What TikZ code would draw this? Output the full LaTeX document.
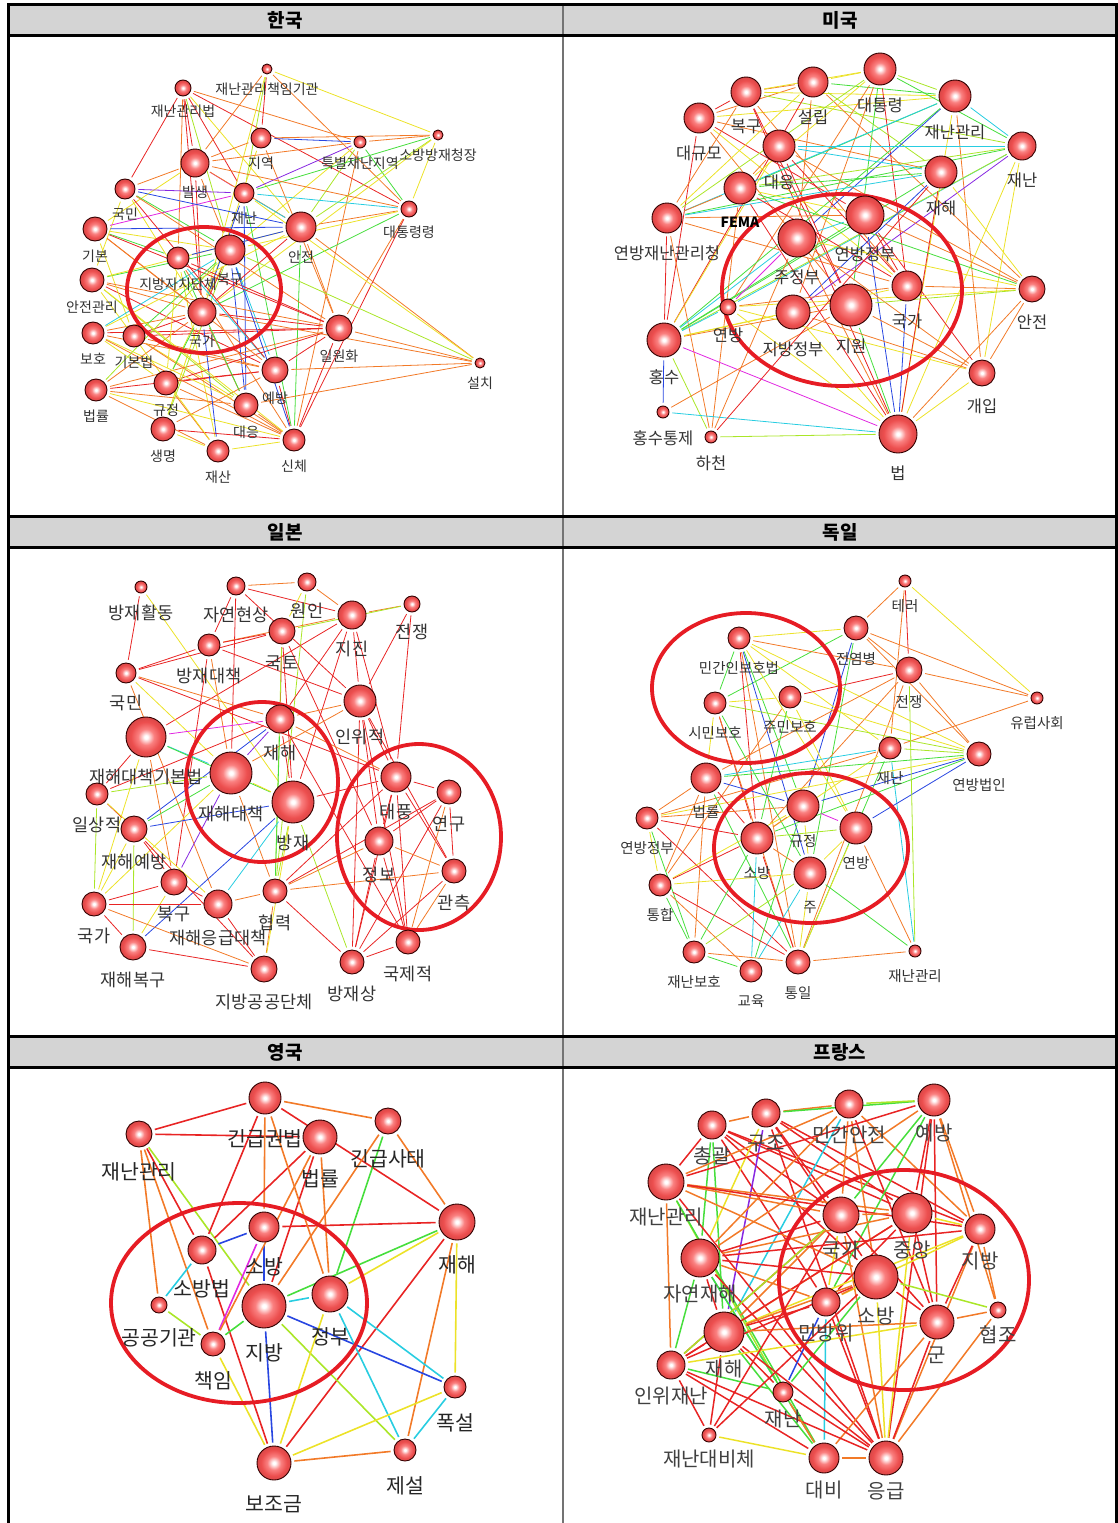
\documentclass[tikz,border=0pt]{standalone}
\usepackage{fontspec}
\setmainfont{Noto Sans CJK KR}
\usetikzlibrary{shapes.geometric}
\definecolor{cR}{RGB}{232,36,36}
\definecolor{cO}{RGB}{242,122,40}
\definecolor{cY}{RGB}{236,226,40}
\definecolor{cL}{RGB}{170,230,40}
\definecolor{cG}{RGB}{70,222,60}
\definecolor{cC}{RGB}{40,205,225}
\definecolor{cB}{RGB}{40,70,225}
\definecolor{cV}{RGB}{135,40,225}
\definecolor{cM}{RGB}{225,40,225}
\definecolor{ringred}{RGB}{230,28,36}
\definecolor{headgray}{RGB}{212,212,212}
\definecolor{ballmid}{RGB}{250,128,128}
\definecolor{balledge}{RGB}{236,78,78}
\pgfdeclareradialshading{sphere}{\pgfpoint{0bp}{0bp}}{color(0bp)=(white); color(2bp)=(white); color(10bp)=(ballmid); color(19bp)=(balledge); color(25bp)=(balledge!92!black); color(50bp)=(balledge!92!black)}
\pgfdeclarelayer{edges}
\pgfdeclarelayer{rings}
\pgfsetlayers{edges,rings,main}

\begin{document}
\begin{tikzpicture}[x=1pt,y=-1pt,
    term/.style={circle,draw=black!80!red,line width=0.9pt,shading=sphere,minimum size=#1,inner sep=0pt},
    wire/.style={draw=#1,line width=0.8pt,shorten <=3pt,shorten >=3pt},
    ring/.style={ellipse,draw=ringred,line width=3.8pt,inner sep=0pt,fill=none},
    frame/.style={draw=black,line width=3pt},
    divider/.style={draw=black!55,line width=1.2pt},
    header/.style={font=\bfseries\fontsize{19}{20}\selectfont}]
  \useasboundingbox (0,0) rectangle (1118,1523);

  \begin{pgfonlayer}{edges}
    \fill[headgray] (8,4) rectangle (1116,35);
    \fill[headgray] (8,516) rectangle (1116,547);
    \fill[headgray] (8,1036) rectangle (1116,1067);
  \end{pgfonlayer}

  \node[header] (hKorea) at (285,20) {한국};
  \node[header] (hUsa) at (840,20) {미국};
  \node[header] (hJapan) at (285,532) {일본};
  \node[header] (hGermany) at (840,532) {독일};
  \node[header] (hUk) at (285,1052) {영국};
  \node[header] (hFrance) at (840,1052) {프랑스};

  % Korea
  \begin{scope}[every label/.style={font=\fontsize{14}{15}\selectfont,text=black!80,inner sep=0pt},label distance=8pt]
    \node[term=10,label=below:재난관리책임기관] (kChaegim) at (267,69) {};
    \node[term=16,label=below:재난관리법] (kGwanbeop) at (183,88) {};
    \node[term=20,label=below:지역] (kJiyeok) at (261,138) {};
    \node[term=12,label=below:특별재난지역] (kTeukbyeol) at (360,142) {};
    \node[term=10,label=below:소방방재청장] (kSobang) at (438,135) {};
    \node[term=28,label=below:발생] (kBalsaeng) at (195,163) {};
    \node[term=20,label=below:국민] (kGukmin) at (125,189) {};
    \node[term=20,label=below:재난] (kJaenan) at (244,193) {};
    \node[term=16,label=below:대통령령] (kDaetong) at (409,209) {};
    \node[term=30,label=below:안전] (kAnjeon) at (301,227) {};
    \node[term=24,label=below:기본] (kGibon) at (95,229) {};
    \node[term=22,label=below:지방자치단체] (kJibang) at (178,258) {};
    \node[term=30,label=below:복구] (kBokgu) at (230,250) {};
    \node[term=24,label=below:안전관리] (kAngwan) at (92,280) {};
    \node[term=28,label=below:국가] (kGukga) at (202,312) {};
    \node[term=22,label=below:보호] (kBoho) at (93,333) {};
    \node[term=22,label=below:기본법] (kGibonbeop) at (134,336) {};
    \node[term=26,label=below:일원화] (kIrwon) at (339,328) {};
    \node[term=10,label=below:설치] (kSeolchi) at (480,363) {};
    \node[term=24,label=below:규정] (kGyujeong) at (166,383) {};
    \node[term=26,label=below:예방] (kYebang) at (275,370) {};
    \node[term=22,label=below:법률] (kBeopryul) at (96,390) {};
    \node[term=24,label=below:대응] (kDaeeung) at (246,405) {};
    \node[term=24,label=below:생명] (kSaeng) at (163,429) {};
    \node[term=22,label=below:재산] (kJaesan) at (218,451) {};
    \node[term=22,label=below:신체] (kSinche) at (294,440) {};
    \begin{pgfonlayer}{edges}
      \foreach \a/\b/\c in {Gwanbeop/Gukmin/R,Gwanbeop/Balsaeng/R,Gwanbeop/Gukga/R,Gwanbeop/Jaenan/R,Gwanbeop/Teukbyeol/O,
          Gwanbeop/Daetong/R,Gwanbeop/Bokgu/L,Gwanbeop/Anjeon/Y,Gwanbeop/Jibang/O,Chaegim/Sobang/Y,Chaegim/Jiyeok/R,
          Chaegim/Balsaeng/O,Chaegim/Jaenan/L,Chaegim/Daetong/O,Chaegim/Gukga/Y,Jiyeok/Teukbyeol/B,Jiyeok/Balsaeng/O,
          Jiyeok/Sobang/O,Jiyeok/Gukga/Y,Jiyeok/Irwon/O,Teukbyeol/Balsaeng/O,Teukbyeol/Jaenan/V,Teukbyeol/Anjeon/L,
          Teukbyeol/Daetong/G,Teukbyeol/Sobang/O,Teukbyeol/Bokgu/Y,Teukbyeol/Sinche/O,Sobang/Daetong/Y,Sobang/Jaenan/G,
          Sobang/Anjeon/L,Sobang/Gukga/Y,Daetong/Anjeon/O,Daetong/Jaenan/C,Daetong/Balsaeng/O,Daetong/Gukga/G,
          Daetong/Bokgu/Y,Daetong/Sinche/R,Daetong/Irwon/O,Balsaeng/Gukmin/O,Balsaeng/Jaenan/M,Balsaeng/Gukga/R,
          Balsaeng/Bokgu/O,Balsaeng/Gibon/Y,Balsaeng/Anjeon/O,Gukmin/Jaenan/V,Gukmin/Gukga/Y,Gukmin/Bokgu/G,
          Gukmin/Angwan/Y,Jaenan/Gibon/M,Jaenan/Gukga/B,Jaenan/Anjeon/C,Jaenan/Daeeung/B,Jaenan/Sinche/G,
          Gibon/Anjeon/B,Gibon/Gukga/O,Gibon/Bokgu/Y,Angwan/Gukga/O,Angwan/Bokgu/G,Angwan/Anjeon/Y,Angwan/Yebang/R,
          Bokgu/Gukga/R,Bokgu/Daeeung/B,Bokgu/Yebang/C,Bokgu/Gyujeong/Y,Anjeon/Gukga/R,Anjeon/Irwon/O,Anjeon/Sinche/G,
          Anjeon/Boho/Y,Jibang/Anjeon/B,Jibang/Irwon/R,Jibang/Jaesan/Y,Gukga/Irwon/R,Gukga/Boho/O,Gukga/Gibonbeop/R,
          Gukga/Saeng/Y,Gukga/Daeeung/O,Boho/Irwon/R,Boho/Gyujeong/Y,Boho/Yebang/O,Gibonbeop/Irwon/R,Gibonbeop/Yebang/O,
          Gibonbeop/Daeeung/Y,Gibonbeop/Sinche/O,Irwon/Seolchi/O,Irwon/Yebang/R,Irwon/Gyujeong/R,Irwon/Beopryul/O,
          Irwon/Sinche/R,Seolchi/Anjeon/O,Seolchi/Gukga/O,Seolchi/Yebang/O,Seolchi/Bokgu/L,Seolchi/Jaenan/Y,
          Seolchi/Daeeung/O,Gyujeong/Yebang/R,Gyujeong/Jaesan/O,Gyujeong/Sinche/O,Beopryul/Yebang/R,Beopryul/Daeeung/O,
          Beopryul/Jaesan/O,Beopryul/Sinche/Y,Saeng/Jaesan/Y,Saeng/Yebang/O,Saeng/Sinche/R,Jaesan/Sinche/Y,
          Daeeung/Sinche/O,Yebang/Sinche/R,Gyujeong/Gukga/G,Beopryul/Gukga/O,Saeng/Bokgu/L,Jaesan/Gukga/B,Sinche/Bokgu/B,
          Gibon/Gibonbeop/Y,Angwan/Irwon/O,Boho/Daeeung/Y,Gukmin/Anjeon/B,Gibon/Jibang/G,Angwan/Jaesan/Y,Boho/Sinche/O,
          Gibon/Irwon/R,Gukmin/Irwon/O,Angwan/Daeeung/L,Gibonbeop/Bokgu/G,Boho/Bokgu/C,Jibang/Yebang/C,Jibang/Daeeung/G,
          Jibang/Gyujeong/Y,Jibang/Sinche/O,Gukmin/Yebang/R,Gibon/Yebang/O,Angwan/Sinche/Y,Beopryul/Bokgu/L}
        \draw[wire=c\c] (k\a) -- (k\b);
    \end{pgfonlayer}
    \begin{pgfonlayer}{rings}
      \node[ring,minimum width=154,minimum height=126] (kCore) at (204,290) {};
    \end{pgfonlayer}
  \end{scope}

  % USA
  \begin{scope}[every label/.style={font=\fontsize{16.5}{17}\selectfont,text=black!80,inner sep=0pt},label distance=12pt]
    \node[term=30,label=below:대규모] (uDaegyumo) at (699,118) {};
    \node[term=30,label=below:복구] (uBokgu) at (746,92) {};
    \node[term=30,label=below:설립] (uSeolrip) at (813,82) {};
    \node[term=32,label=below:대통령] (uDaetong) at (880,69) {};
    \node[term=32,label=below:재난관리] (uJaegwan) at (955,96) {};
    \node[term=28,label=below:재난] (uJaenan) at (1022,146) {};
    \node[term=32,label=below:대응] (uDaeeung) at (779,146) {};
    \node[term=32,label=below:재해] (uJaehae) at (941,172) {};
    \node[term=32,label={[font=\bfseries\fontsize{14}{15}\selectfont,text=black]below:FEMA}] (uFema) at (740,188) {};
    \node[term=30,label=below:연방재난관리청] (uYeonjaegwan) at (667,218) {};
    \node[term=38,label=below:연방정부] (uYeonjeong) at (865,215) {};
    \node[term=38,label=below:주정부] (uJujeong) at (797,238) {};
    \node[term=30,label=below:국가] (uGukga) at (907,286) {};
    \node[term=16,label=below:연방] (uYeonbang) at (728,307) {};
    \node[term=42,label=below:지원] (uJiwon) at (851,305) {};
    \node[term=34,label=below:지방정부] (uJibang) at (793,312) {};
    \node[term=26,label=below:안전] (uAnjeon) at (1032,289) {};
    \node[term=34,label=below:홍수] (uHongsu) at (664,340) {};
    \node[term=26,label=below:개입] (uGaeip) at (982,373) {};
    \node[term=12,label=below:홍수통제] (uHongtong) at (663,412) {};
    \node[term=12,label=below:하천] (uHacheon) at (711,437) {};
    \node[term=38,label=below:법] (uBeop) at (898,434) {};
    \begin{pgfonlayer}{edges}
      \foreach \a/\b/\c in {Daegyumo/Bokgu/R,Daegyumo/Seolrip/O,Daegyumo/Jaegwan/Y,Daegyumo/Jaehae/O,Daegyumo/Yeonjeong/R,
          Daegyumo/Jiwon/O,Daegyumo/Hongsu/R,Daegyumo/Gukga/Y,Bokgu/Seolrip/O,Bokgu/Daetong/Y,Bokgu/Jaegwan/Y,
          Bokgu/Jaenan/L,Bokgu/Jiwon/R,Bokgu/Gukga/O,Bokgu/Yeonjaegwan/O,Bokgu/Beop/R,Seolrip/Daetong/Y,
          Seolrip/Jaegwan/G,Seolrip/Jaehae/L,Seolrip/Yeonjaegwan/Y,Seolrip/Jujeong/O,Seolrip/Anjeon/O,Seolrip/Hongsu/R,
          Daetong/Jaegwan/L,Daetong/Jaenan/G,Daetong/Fema/Y,Daetong/Yeonjaegwan/L,Daetong/Jiwon/G,Daetong/Jibang/O,
          Daetong/Gukga/R,Daetong/Yeonbang/O,Jaegwan/Jaenan/C,Jaegwan/Fema/G,Jaegwan/Yeonjaegwan/C,Jaegwan/Jujeong/B,
          Jaegwan/Gaeip/O,Jaegwan/Hongsu/G,Jaegwan/Beop/Y,Jaenan/Daeeung/C,Jaenan/Fema/L,Jaenan/Yeonjaegwan/G,
          Jaenan/Yeonbang/C,Jaenan/Jibang/V,Jaenan/Hongsu/L,Jaenan/Beop/Y,Jaenan/Gaeip/Y,Daeeung/Jaehae/C,Daeeung/Fema/O,
          Daeeung/Jiwon/R,Daeeung/Gukga/R,Daeeung/Anjeon/O,Daeeung/Hongsu/Y,Jaehae/Fema/G,Jaehae/Yeonjaegwan/C,
          Jaehae/Jibang/B,Jaehae/Hongsu/G,Jaehae/Anjeon/Y,Jaehae/Beop/R,Fema/Yeonjaegwan/O,Fema/Yeonjeong/Y,Fema/Gukga/R,
          Fema/Anjeon/G,Fema/Hacheon/O,Fema/Beop/R,Yeonjaegwan/Yeonjeong/O,Yeonjaegwan/Hongsu/R,Yeonjaegwan/Gukga/O,
          Yeonjaegwan/Hacheon/O,Yeonjeong/Jujeong/C,Yeonjeong/Gukga/R,Yeonjeong/Anjeon/O,Yeonjeong/Gaeip/R,
          Yeonjeong/Hongsu/G,Yeonjeong/Beop/B,Jujeong/Yeonbang/M,Jujeong/Anjeon/Y,Jujeong/Gaeip/O,Jujeong/Hongsu/C,
          Jujeong/Beop/O,Gukga/Anjeon/O,Gukga/Hongsu/Y,Gukga/Beop/B,Gukga/Yeonbang/O,Yeonbang/Anjeon/Y,Yeonbang/Hongsu/C,
          Yeonbang/Beop/Y,Jiwon/Hongsu/O,Jiwon/Anjeon/L,Jiwon/Gaeip/O,Jiwon/Beop/G,Jibang/Hongsu/Y,Jibang/Beop/Y,
          Jibang/Gaeip/O,Hongsu/Beop/M,Hongsu/Hongtong/B,Hongsu/Hacheon/L,Hongtong/Beop/C,Hacheon/Beop/L,
          Hongtong/Jiwon/O,Hacheon/Jujeong/O,Hacheon/Jaehae/R,Anjeon/Gaeip/O,Anjeon/Beop/O,Gaeip/Beop/Y,Gaeip/Yeonbang/Y}
        \draw[wire=c\c] (u\a) -- (u\b);
    \end{pgfonlayer}
    \begin{pgfonlayer}{rings}
      \node[ring,minimum width=240,minimum height=192] (uCore) at (842,290) {};
    \end{pgfonlayer}
  \end{scope}

  % Japan
  \begin{scope}[every label/.style={font=\fontsize{17.5}{18}\selectfont,text=black!80,inner sep=0pt},label distance=11pt]
    \node[term=12,label=below:방재활동] (jHwaldong) at (141,587) {};
    \node[term=18,label=below:자연현상] (jJayeon) at (236,586) {};
    \node[term=18,label=below:원인] (jWonin) at (307,582) {};
    \node[term=28,label=below:지진] (jJijin) at (352,615) {};
    \node[term=16,label=below:전쟁] (jJeonjaeng) at (412,604) {};
    \node[term=22,label=below:방재대책] (jDaechaek) at (209,645) {};
    \node[term=26,label=below:국토] (jGukto) at (282,631) {};
    \node[term=20,label=below:국민] (jGukmin) at (126,673) {};
    \node[term=32,label=below:인위적] (jInwi) at (360,701) {};
    \node[term=28,label=below:재해] (jJaehae) at (280,719) {};
    \node[term=40,label=below:재해대책기본법] (jGibonbeop) at (146,737) {};
    \node[term=42,label=below:재해대책] (jJaedae) at (231,773) {};
    \node[term=42,label=below:방재] (jBangjae) at (293,802) {};
    \node[term=30,label=below:태풍] (jTaepung) at (396,777) {};
    \node[term=24,label=below:연구] (jYeongu) at (449,792) {};
    \node[term=22,label=below:일상적] (jIlsang) at (97,794) {};
    \node[term=26,label=below:재해예방] (jYebang) at (134,829) {};
    \node[term=28,label=below:정보] (jJeongbo) at (379,841) {};
    \node[term=24,label=below:관측] (jGwancheuk) at (454,871) {};
    \node[term=26,label=below:복구] (jBokgu) at (174,882) {};
    \node[term=28,label=below:재해응급대책] (jEunggeup) at (218,904) {};
    \node[term=24,label=below:협력] (jHyeopryeok) at (275,891) {};
    \node[term=24,label=below:국가] (jGukga) at (94,904) {};
    \node[term=26,label=below:재해복구] (jJaebok) at (133,947) {};
    \node[term=26,label=below:지방공공단체] (jJichi) at (264,969) {};
    \node[term=24,label=below:방재상] (jBangjaesang) at (352,962) {};
    \node[term=24,label=below:국제적] (jGukje) at (408,942) {};
    \begin{pgfonlayer}{edges}
      \foreach \a/\b/\c in {Hwaldong/Gukmin/R,Hwaldong/Bangjae/Y,Jayeon/Wonin/O,Jayeon/Jijin/R,Jayeon/Daechaek/R,Jayeon/Inwi/R,
          Jayeon/Jaedae/R,Wonin/Jijin/O,Wonin/Gukto/Y,Wonin/Hyeopryeok/L,Jijin/Jeonjaeng/O,Jijin/Daechaek/O,Jijin/Inwi/R,
          Jijin/Jaehae/R,Jijin/Taepung/R,Jijin/Bangjae/R,Jijin/Gibonbeop/R,Jeonjaeng/Gukto/L,Jeonjaeng/Inwi/R,
          Jeonjaeng/Taepung/R,Daechaek/Gukto/R,Daechaek/Gukmin/R,Daechaek/Jaedae/O,Daechaek/Bokgu/R,Daechaek/Inwi/R,
          Gukto/Jaehae/R,Gukto/Gukmin/R,Gukto/Bangjae/R,Gukto/Jeongbo/R,Gukto/Hyeopryeok/L,Gukmin/Jaehae/O,Gukmin/Jaedae/Y,
          Gukmin/Taepung/R,Gukmin/Eunggeup/O,Inwi/Jaehae/O,Inwi/Taepung/R,Inwi/Jeongbo/R,Inwi/Gwancheuk/R,
          Inwi/Bangjaesang/R,Inwi/Gukje/R,Inwi/Jaedae/O,Jaehae/Jaedae/V,Jaehae/Gibonbeop/M,Jaehae/Ilsang/R,Jaehae/Yebang/B,
          Jaehae/Bangjae/R,Jaehae/Hyeopryeok/G,Jaehae/Taepung/O,Jaehae/Gukje/R,Gibonbeop/Jaedae/C,Gibonbeop/Ilsang/R,
          Gibonbeop/Bangjae/G,Gibonbeop/Bokgu/O,Gibonbeop/Gukga/Y,Jaedae/Ilsang/L,Jaedae/Yebang/G,Jaedae/Bokgu/V,
          Jaedae/Bangjae/Y,Jaedae/Gukga/Y,Jaedae/Hyeopryeok/O,Bangjae/Yebang/B,Bangjae/Eunggeup/C,Bangjae/Taepung/R,
          Bangjae/Hyeopryeok/L,Bangjae/Jaebok/B,Bangjae/Bangjaesang/L,Taepung/Yeongu/R,Taepung/Jeongbo/R,
          Taepung/Gwancheuk/R,Taepung/Hyeopryeok/R,Taepung/Bangjaesang/R,Taepung/Gukje/R,Yeongu/Jeongbo/R,
          Yeongu/Gwancheuk/R,Yeongu/Bangjaesang/R,Yeongu/Hyeopryeok/R,Yeongu/Gukje/O,Jeongbo/Hyeopryeok/O,
          Jeongbo/Gwancheuk/O,Jeongbo/Bangjaesang/R,Jeongbo/Gukje/R,Gwancheuk/Bangjaesang/R,Gwancheuk/Hyeopryeok/O,
          Gwancheuk/Gukje/O,Ilsang/Yebang/R,Ilsang/Gukga/L,Ilsang/Eunggeup/Y,Yebang/Bokgu/R,Yebang/Gukga/Y,Yebang/Jaebok/L,
          Yebang/Jichi/R,Bokgu/Eunggeup/R,Bokgu/Gukga/R,Bokgu/Jaebok/Y,Eunggeup/Jichi/R,Eunggeup/Hyeopryeok/O,
          Gukga/Jaebok/R,Gukga/Jichi/O,Gukga/Eunggeup/R,Jaebok/Jichi/R,Hyeopryeok/Bangjaesang/R,Hyeopryeok/Jichi/O,
          Bangjaesang/Gukje/R,Jichi/Bangjae/Y}
        \draw[wire=c\c] (j\a) -- (j\b);
    \end{pgfonlayer}
    \begin{pgfonlayer}{rings}
      \node[ring,minimum width=152,minimum height=160] (jCoreA) at (262,782) {};
      \node[ring,minimum width=164,minimum height=186] (jCoreB) at (419,837) {};
    \end{pgfonlayer}
  \end{scope}

  % Germany
  \begin{scope}[every label/.style={font=\fontsize{14.5}{15}\selectfont,text=black!80,inner sep=0pt},label distance=12pt]
    \node[term=12,label=below:테러] (gTereo) at (905,581) {};
    \node[term=24,label=below:전염병] (gJeonyeom) at (856,628) {};
    \node[term=22,label=below:민간인보호법] (gMingan) at (739,638) {};
    \node[term=26,label=below:전쟁] (gJeonjaeng) at (909,670) {};
    \node[term=12,label=below:유럽사회] (gYureop) at (1037,698) {};
    \node[term=22,label=below:시민보호] (gSimin) at (715,703) {};
    \node[term=22,label=below:주민보호] (gJumin) at (790,697) {};
    \node[term=22,label=below:재난] (gJaenan) at (890,748) {};
    \node[term=24,label=below:연방법인] (gYeonbeop) at (979,754) {};
    \node[term=30,label=below:법률] (gBeopryul) at (706,778) {};
    \node[term=22,label=below:연방정부] (gYeonjeong) at (647,818) {};
    \node[term=32,label=below:규정] (gGyujeong) at (803,806) {};
    \node[term=32,label=below:연방] (gYeonbang) at (856,828) {};
    \node[term=32,label=below:소방] (gSobang) at (757,838) {};
    \node[term=32,label=below:주] (gJu) at (810,873) {};
    \node[term=22,label=below:통합] (gTonghap) at (660,885) {};
    \node[term=22,label=below:재난보호] (gJaebo) at (694,952) {};
    \node[term=22,label=below:교육] (gGyoyuk) at (751,971) {};
    \node[term=24,label=below:통일] (gTongil) at (798,962) {};
    \node[term=12,label=below:재난관리] (gJaegwan) at (915,951) {};
    \begin{pgfonlayer}{edges}
      \foreach \a/\b/\c in {Tereo/Jeonyeom/O,Tereo/Jeonjaeng/R,Tereo/Yureop/Y,Tereo/Jaenan/O,Jeonyeom/Mingan/Y,Jeonyeom/Yureop/O,
          Jeonyeom/Jeonjaeng/O,Jeonyeom/Simin/G,Jeonyeom/Yeonbeop/O,Jeonyeom/Gyujeong/B,Jeonyeom/Ju/G,Mingan/Jeonjaeng/O,
          Mingan/Yeonbang/Y,Mingan/Yeonbeop/Y,Mingan/Simin/G,Mingan/Sobang/R,Mingan/Ju/B,Mingan/Tongil/O,Mingan/Jaenan/Y,
          Mingan/Gyujeong/G,Jeonjaeng/Yureop/O,Jeonjaeng/Jumin/R,Jeonjaeng/Yeonbeop/O,Jeonjaeng/Beopryul/O,
          Jeonjaeng/Sobang/O,Jeonjaeng/Tongil/O,Yureop/Jaenan/O,Simin/Jumin/Y,Simin/Beopryul/Y,Simin/Ju/G,
          Simin/Yeonbeop/L,Simin/Sobang/R,Simin/Tongil/O,Jumin/Yeonbang/Y,Jumin/Sobang/G,Jumin/Yeonbeop/Y,Jumin/Tonghap/O,
          Jaenan/Beopryul/C,Jaenan/Yeonbeop/L,Jaenan/Sobang/Y,Jaenan/Tongil/G,Jaenan/Jaegwan/C,Jaenan/Yeonjeong/O,
          Yeonbeop/Beopryul/G,Yeonbeop/Yeonbang/B,Yeonbeop/Gyujeong/B,Yeonbeop/Sobang/G,Yeonbeop/Yeonjeong/Y,
          Beopryul/Yeonjeong/O,Beopryul/Gyujeong/B,Beopryul/Sobang/R,Beopryul/Tonghap/O,Beopryul/Jaebo/O,
          Beopryul/Tongil/G,Yeonjeong/Gyujeong/O,Yeonjeong/Sobang/R,Yeonjeong/Jaebo/G,Yeonjeong/Tongil/R,
          Yeonjeong/Tonghap/Y,Gyujeong/Yeonbang/M,Gyujeong/Sobang/O,Gyujeong/Ju/Y,Gyujeong/Tonghap/Y,Gyujeong/Gyoyuk/G,
          Yeonbang/Ju/Y,Yeonbang/Jaegwan/O,Yeonbang/Tongil/Y,Yeonbang/Sobang/L,Sobang/Ju/O,Sobang/Tonghap/R,
          Sobang/Gyoyuk/C,Sobang/Jaebo/G,Sobang/Tongil/R,Ju/Tonghap/Y,Ju/Gyoyuk/C,Ju/Tongil/Y,Ju/Jaegwan/G,Ju/Jaebo/L,
          Tonghap/Jaebo/G,Tonghap/Gyoyuk/O,Tonghap/Tongil/R,Jaebo/Tongil/O,Jaebo/Gyoyuk/G,Tongil/Jaegwan/O,
          Jaegwan/Jeonjaeng/L}
        \draw[wire=c\c] (g\a) -- (g\b);
    \end{pgfonlayer}
    \begin{pgfonlayer}{rings}
      \node[ring,minimum width=188,minimum height=150] (gCoreA) at (746,688) {};
      \node[ring,minimum width=194,minimum height=150] (gCoreB) at (811,848) {};
    \end{pgfonlayer}
  \end{scope}

  % UK
  \begin{scope}[every label/.style={font=\fontsize{20.5}{21}\selectfont,text=black!85,inner sep=0pt},label distance=15pt,
      wire/.append style={line width=1.6pt}]
    \node[term=32,label=below:긴급권법] (eGingeup) at (265,1098) {};
    \node[term=26,label=below:재난관리] (eJaegwan) at (139,1134) {};
    \node[term=34,label=below:법률] (eBeopryul) at (320,1137) {};
    \node[term=26,label=below:긴급사태] (eSatae) at (388,1121) {};
    \node[term=36,label=below:재해] (eJaehae) at (457,1222) {};
    \node[term=30,label=below:소방] (eSobang) at (264,1227) {};
    \node[term=28,label=below:소방법] (eSobangbeop) at (202,1250) {};
    \node[term=16,label=below:공공기관] (eGonggong) at (159,1305) {};
    \node[term=44,label=below:지방] (eJibang) at (264,1306) {};
    \node[term=36,label=below:정부] (eJeongbu) at (330,1294) {};
    \node[term=24,label=below:책임] (eChaegim) at (213,1344) {};
    \node[term=22,label=below:폭설] (ePokseol) at (455,1387) {};
    \node[term=22,label=below:제설] (eJeseol) at (405,1450) {};
    \node[term=34,label=below:보조금] (eBojo) at (274,1463) {};
    \begin{pgfonlayer}{edges}
      \foreach \a/\b/\c in {Jaegwan/Gingeup/R,Jaegwan/Beopryul/R,Gingeup/Satae/O,Gingeup/Jaehae/R,Satae/Jaehae/O,
          Jaegwan/Jibang/L,Jaegwan/Sobangbeop/R,Jaegwan/Chaegim/O,Jaegwan/Gonggong/O,Gingeup/Sobangbeop/R,
          Gingeup/Sobang/O,Beopryul/Sobangbeop/R,Beopryul/Jibang/R,Satae/Jibang/O,Satae/Jeongbu/G,Beopryul/Jeongbu/O,
          Sobang/Jaehae/R,Jaehae/Jeongbu/Y,Jaehae/Jibang/G,Jaehae/Bojo/R,Jaehae/Jeseol/O,Jaehae/Pokseol/Y,
          Jeongbu/Pokseol/C,Jibang/Pokseol/B,Jibang/Jeseol/L,Jeongbu/Jeseol/C,Bojo/Jeseol/O,Bojo/Pokseol/Y,
          Jeseol/Pokseol/C,Bojo/Jibang/B,Bojo/Chaegim/Y,Bojo/Sobangbeop/R,Bojo/Jeongbu/Y,Jibang/Jeongbu/C,
          Jibang/Chaegim/G,Gonggong/Sobangbeop/C,Gonggong/Chaegim/L,Sobangbeop/Sobang/B,Chaegim/Sobang/M,
          Jibang/Sobang/B,Beopryul/Chaegim/O,Gingeup/Jeongbu/O}
        \draw[wire=c\c] (e\a) -- (e\b);
    \end{pgfonlayer}
    \begin{pgfonlayer}{rings}
      \node[ring,minimum width=256,minimum height=200] (eCore) at (239,1303) {};
    \end{pgfonlayer}
  \end{scope}

  % France
  \begin{scope}[every label/.style={font=\fontsize{20}{21}\selectfont,text=black!75,inner sep=0pt},label distance=7pt,
      wire/.append style={line width=1.5pt}]
    \node[term=28,label=below:총괄] (fChonggwal) at (712,1125) {};
    \node[term=28,label=below:구조] (fGujo) at (766,1113) {};
    \node[term=28,label=below:민간안전] (fMingan) at (849,1104) {};
    \node[term=32,label=below:예방] (fYebang) at (934,1100) {};
    \node[term=36,label=below:재난관리] (fJaegwan) at (666,1182) {};
    \node[term=36,label=below:국가] (fGukga) at (841,1215) {};
    \node[term=40,label=below:중앙] (fJungang) at (912,1213) {};
    \node[term=30,label=below:지방] (fJibang) at (980,1229) {};
    \node[term=38,label=below:자연재해] (fJayeon) at (700,1258) {};
    \node[term=44,label=below:소방] (fSobang) at (876,1277) {};
    \node[term=28,label=below:민방위] (fMinbang) at (826,1302) {};
    \node[term=40,label=below:재해] (fJaehae) at (724,1332) {};
    \node[term=34,label=below:군] (fGun) at (937,1322) {};
    \node[term=16,label=below:협조] (fHyeopjo) at (998,1310) {};
    \node[term=28,label=below:인위재난] (fInwi) at (671,1365) {};
    \node[term=20,label=below:재난] (fJaenan) at (783,1392) {};
    \node[term=14,label=below:재난대비체] (fDaebiche) at (709,1435) {};
    \node[term=30,label=below:대비] (fDaebi) at (824,1458) {};
    \node[term=34,label=below:응급] (fEunggeup) at (886,1458) {};
    \begin{pgfonlayer}{edges}
      \foreach \a/\b/\c in {Chonggwal/Gujo/O,Chonggwal/Jaegwan/R,Chonggwal/Gukga/R,Chonggwal/Jungang/R,Chonggwal/Sobang/R,
          Chonggwal/Jayeon/G,Chonggwal/Jaehae/G,Chonggwal/Jibang/R,Chonggwal/Minbang/R,Gujo/Mingan/O,Gujo/Yebang/G,
          Gujo/Gukga/R,Gujo/Jungang/R,Gujo/Jibang/R,Gujo/Sobang/R,Gujo/Jaehae/V,Gujo/Jayeon/Y,Gujo/Eunggeup/R,
          Mingan/Yebang/L,Mingan/Jaegwan/O,Mingan/Jayeon/O,Mingan/Jaehae/C,Mingan/Gukga/O,Mingan/Sobang/O,Mingan/Gun/R,
          Mingan/Jibang/O,Yebang/Jaegwan/R,Yebang/Gukga/G,Yebang/Jungang/R,Yebang/Jayeon/O,Yebang/Jibang/O,Yebang/Gun/R,
          Yebang/Eunggeup/R,Yebang/Minbang/G,Yebang/Hyeopjo/O,Jaegwan/Gukga/O,Jaegwan/Jungang/O,Jaegwan/Sobang/O,
          Jaegwan/Inwi/O,Jaegwan/Jaenan/L,Jaegwan/Jibang/R,Jaegwan/Eunggeup/R,Jaegwan/Daebi/G,Gukga/Jungang/O,
          Gukga/Jayeon/R,Gukga/Jaehae/O,Gukga/Inwi/R,Gukga/Minbang/Y,Gukga/Gun/R,Gukga/Eunggeup/O,Jungang/Jayeon/O,
          Jungang/Jaehae/O,Jungang/Jibang/Y,Jungang/Gun/R,Jungang/Eunggeup/Y,Jungang/Minbang/R,Jungang/Inwi/R,
          Jibang/Jayeon/R,Jibang/Hyeopjo/O,Jibang/Eunggeup/O,Jibang/Minbang/Y,Jibang/Jaehae/Y,Jibang/Gun/R,
          Jayeon/Jaehae/R,Jayeon/Sobang/R,Jayeon/Minbang/O,Jayeon/Inwi/G,Jayeon/Jaenan/C,Jayeon/Daebi/G,Jayeon/Eunggeup/R,
          Sobang/Jaehae/O,Sobang/Minbang/O,Sobang/Gun/R,Sobang/Hyeopjo/L,Sobang/Jaenan/G,Sobang/Eunggeup/Y,Sobang/Inwi/R,
          Minbang/Jaehae/R,Minbang/Jaenan/B,Minbang/Eunggeup/R,Minbang/Daebi/C,Jaehae/Inwi/R,Jaehae/Jaenan/R,
          Jaehae/Daebiche/R,Jaehae/Gun/O,Jaehae/Daebi/G,Jaehae/Eunggeup/R,Gun/Hyeopjo/O,Gun/Eunggeup/R,Gun/Daebi/O,
          Gun/Inwi/Y,Hyeopjo/Eunggeup/O,Inwi/Jaenan/G,Inwi/Daebi/R,Inwi/Eunggeup/R,Inwi/Daebiche/R,Inwi/Gukga/L,
          Jaenan/Eunggeup/R,Jaenan/Daebi/O,Daebiche/Daebi/Y,Daebiche/Gukga/R,Daebiche/Sobang/R,Daebi/Eunggeup/O}
        \draw[wire=c\c] (f\a) -- (f\b);
    \end{pgfonlayer}
    \begin{pgfonlayer}{rings}
      \node[ring,minimum width=250,minimum height=220] (fCore) at (904,1280) {};
    \end{pgfonlayer}
  \end{scope}

  \draw[divider] (563,4) -- (563,1523);
  \draw[frame] (8,1523) -- (8,4) -- (1116,4) -- (1116,1523);
  \draw[frame] (8,35) -- (1116,35);
  \draw[frame] (8,516) -- (1116,516);
  \draw[frame] (8,547) -- (1116,547);
  \draw[frame] (8,1036) -- (1116,1036);
  \draw[frame] (8,1067) -- (1116,1067);
\end{tikzpicture}
\end{document}
